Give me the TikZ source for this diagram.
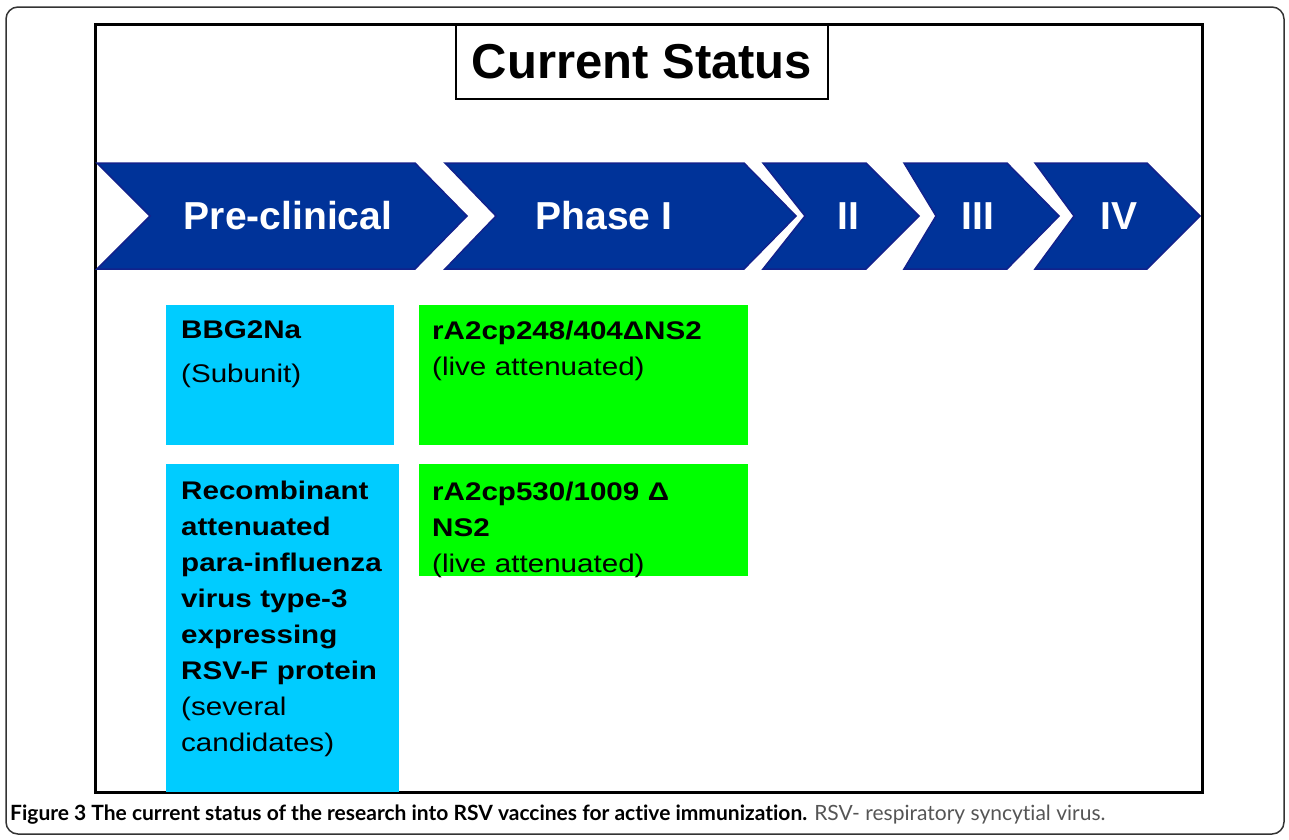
\documentclass[tikz,border=0pt]{standalone}
\usepackage{fontspec}
\setmainfont{Liberation Sans}
\newfontfamily\boxfont[FakeStretch=1.16]{Liberation Sans}
\newfontfamily\capfont[Ligatures=NoCommon]{Lato}
\definecolor{chevblue}{RGB}{0,51,153}
\definecolor{chevedge}{RGB}{18,34,140}
\definecolor{boxcyan}{RGB}{0,204,255}
\definecolor{boxgreen}{RGB}{0,255,0}
\definecolor{capgray}{RGB}{85,85,85}
\tikzset{
  chev/.style={fill=chevblue, draw=chevedge, line width=1.5pt, line join=miter},
  chevtext/.style={text=white, font=\fontsize{39}{39}\selectfont\bfseries, inner sep=0pt},
  vbox/.style={anchor=north west, inner sep=0pt, outer sep=0pt, draw=none},
  boxtext/.style={anchor=base west, inner sep=0pt, align=left, text width=300pt,
    font=\boxfont\fontsize{25.5}{36}\selectfont},
}
\begin{document}
\begin{tikzpicture}[x=1pt,y=-1pt]
\useasboundingbox (0,0) rectangle (1289,839);
% outer frame
\draw[black!80, line width=1.5pt, rounded corners=12pt] (6,7) rectangle (1284,834);
% inner frame
\draw[black, line width=3pt] (95,24) rectangle (1202,792);
% title box
\node[draw=black, line width=2pt, minimum width=372pt, minimum height=74pt, anchor=north west,
      inner sep=0pt, font=\fontsize{49}{49}\selectfont\bfseries] (title) at (455,24) {Current Status};
% chevrons
\path[chev] (97,163) -- (415,163) -- (467,216) -- (415,269) -- (97,269) -- (150,216) -- cycle;
\node[chevtext] (pre) at (288,216) {Pre-clinical};
\path[chev] (445,163) -- (744,163) -- (796,216) -- (744,269) -- (445,269) -- (496,216) -- cycle;
\node[chevtext] (ph1) at (604,216) {Phase I};
\path[chev] (763,163) -- (866,163) -- (919,216) -- (866,269) -- (763,269) -- (805,216) -- cycle;
\node[chevtext] (ph2) at (848,216) {II};
\path[chev] (904,163) -- (1007,163) -- (1059,216) -- (1007,269) -- (904,269) -- (936,216) -- cycle;
\node[chevtext] (ph3) at (978,216) {III};
\path[chev] (1035,163) -- (1147,163) -- (1200,216) -- (1147,269) -- (1035,269) -- (1074,216) -- cycle;
\node[chevtext] (ph4) at (1119,216) {IV};
% candidate boxes
\node[vbox, fill=boxcyan, minimum width=228pt, minimum height=140pt] (b1) at (166,305) {};
\node[vbox, fill=boxgreen, minimum width=329pt, minimum height=140pt] (g1) at (419,305) {};
\node[vbox, fill=boxcyan, minimum width=233pt, minimum height=328pt] (b2) at (166,464) {};
\node[vbox, fill=boxgreen, minimum width=329pt, minimum height=112pt] (g2) at (419,464) {};
% texts
\node[boxtext] (t1) at (181,338) {\textbf{BBG2Na}\\[8pt](Subunit)};
\node[boxtext] (t2) at (432,339) {\textbf{rA2cp248/404ΔNS2}\\(live attenuated)};
\node[boxtext] (t3) at (181,499) {\textbf{Recombinant}\\\textbf{attenuated}\\\textbf{para-influenza}\\\textbf{virus type-3}\\\textbf{expressing}\\\textbf{RSV-F protein}\\(several\\candidates)};
\node[boxtext] (t4) at (432,500) {\textbf{rA2cp530/1009 Δ}\\\textbf{NS2}\\(live attenuated)};
% caption
\node[anchor=base west, inner sep=0pt, font=\capfont\fontsize{21}{24}\selectfont] (cap) at (10,820)
  {\textbf{Figure 3 The current status of the research into RSV vaccines for active immunization.} \textcolor{capgray}{RSV- respiratory syncytial virus.}};
\end{tikzpicture}
\end{document}
